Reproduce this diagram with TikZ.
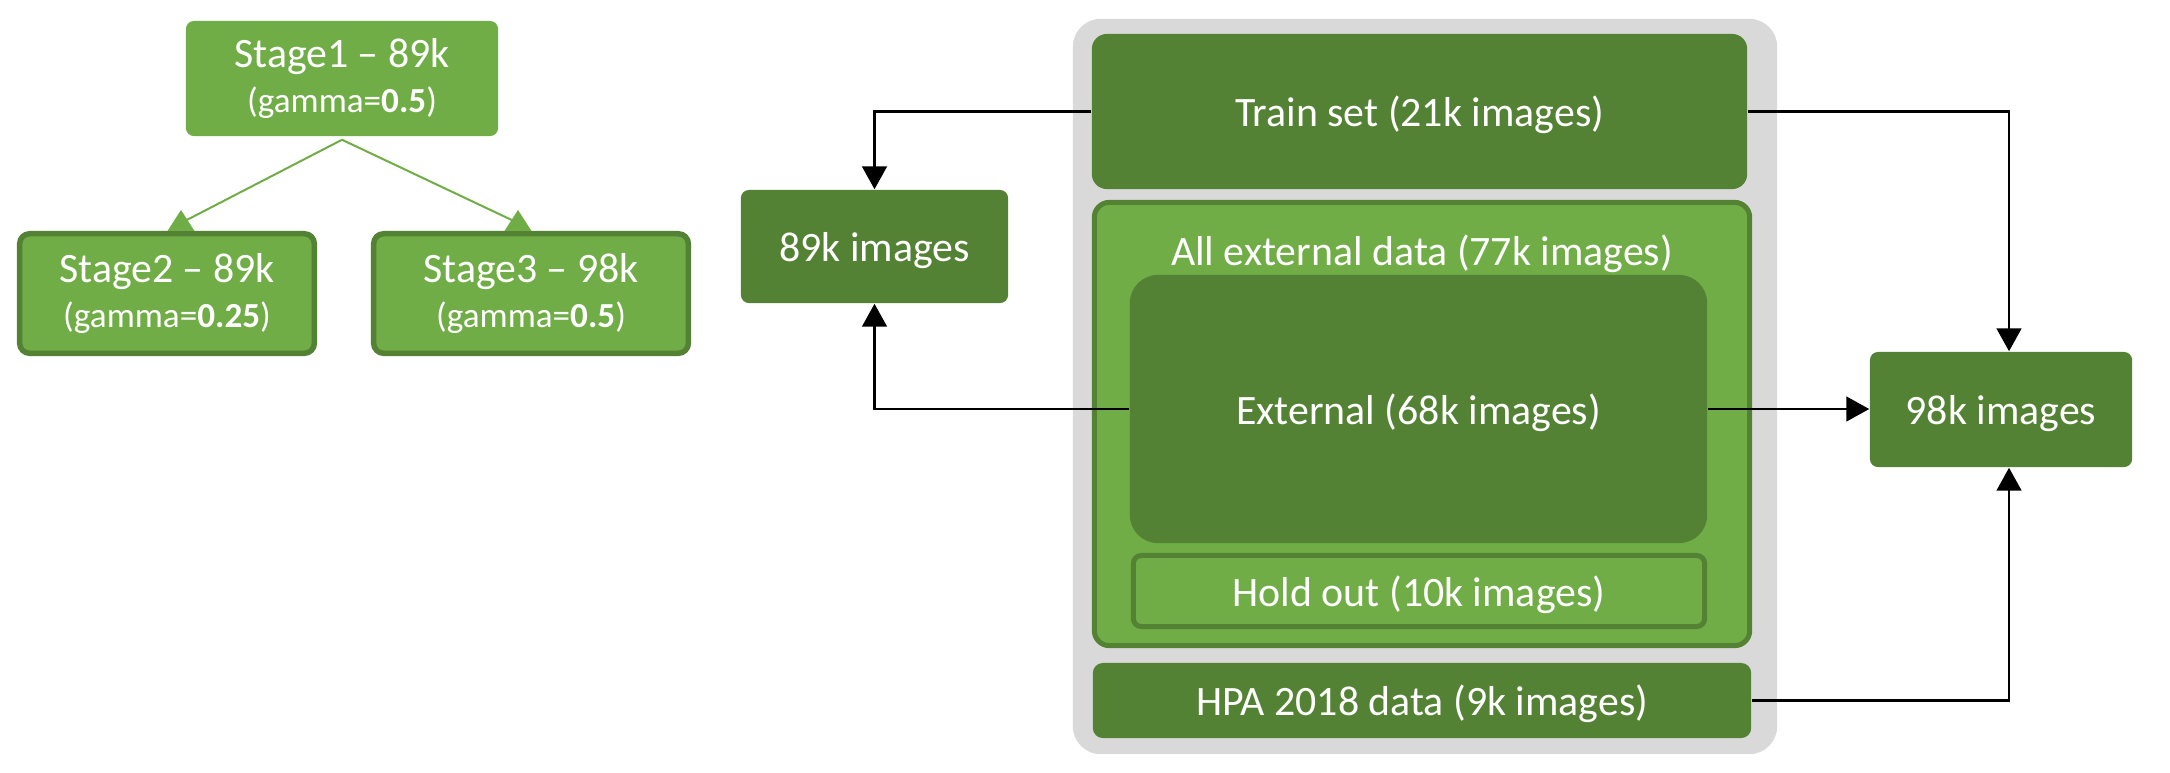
\documentclass[tikz,border=0pt]{standalone}
\usepackage{fontspec}
\setmainfont{Carlito}
\usepackage{tikz}
\usetikzlibrary{arrows.meta,positioning,calc}
\usepackage{xcolor}
\definecolor{leafgreen}{HTML}{70AD47}
\definecolor{mossgreen}{HTML}{548235}
\definecolor{panelgray}{HTML}{D9D9D9}

\begin{document}
\begin{tikzpicture}[
  x=0.01cm, y=-0.01cm,
  font=\fontsize{11.9}{12.6}\selectfont,
  >={Triangle[length=6.5pt,width=7pt]},
  stagebox/.style={
    fill=leafgreen,
    text=white,
    rounded corners=0.08cm,
    inner sep=0pt,
    align=center
  },
  stageedge/.style={
    stagebox,
    draw=mossgreen,
    line width=0.055cm,
    rounded corners=0.1cm
  },
  setbox/.style={
    fill=mossgreen,
    text=white,
    rounded corners=0.15cm,
    inner sep=0pt,
    text depth=0pt,
    align=center
  },
  subsetbox/.style={
    fill=leafgreen,
    draw=mossgreen,
    line width=0.05cm,
    text=white,
    inner sep=0pt,
    text depth=0pt,
    align=center
  },
  flow/.style={->, line width=0.025cm, black},
  branch/.style={leafgreen, line width=0.02cm}
]
  \useasboundingbox (0,0) rectangle (2170,772);

  % Left: training stages
  \node[stagebox, minimum width=3.12cm, minimum height=1.15cm] (stage1) at (342,78.5) {
    Stage1 – 89k\\
    {\fontsize{10}{12.6}\selectfont(gamma=\textbf{0.5})}
  };
  \node[stageedge, minimum width=2.945cm, minimum height=1.195cm] (stage2) at (167,293.5) {
    Stage2 – 89k\\
    {\fontsize{10}{12.6}\selectfont(gamma=\textbf{0.25})}
  };
  \node[stageedge, minimum width=3.145cm, minimum height=1.195cm] (stage3) at (531,293.5) {
    Stage3 – 98k\\
    {\fontsize{10}{12.6}\selectfont(gamma=\textbf{0.5})}
  };

  % Branches with upright tips
  \coordinate (fork) at ([yshift=-0.03cm]stage1.south);
  \coordinate (tip2) at ([xshift=0.14cm]stage2.north);
  \coordinate (tip3) at ([xshift=-0.13cm]stage3.north);
  \draw[branch] (fork) -- ([yshift=0.08cm]tip2);
  \draw[branch] (fork) -- ([yshift=0.08cm]tip3);
  \fill[leafgreen] ([xshift=-0.135cm]tip2) -- ([xshift=0.135cm]tip2) -- ([yshift=0.21cm]tip2) -- cycle;
  \fill[leafgreen] ([xshift=-0.135cm]tip3) -- ([xshift=0.135cm]tip3) -- ([yshift=0.21cm]tip3) -- cycle;

  % Middle: data panel
  \node[fill=panelgray, rounded corners=0.28cm, minimum width=7.04cm, minimum height=7.35cm] (panel) at (1425,386.5) {};
  \node[setbox, minimum width=6.55cm, minimum height=1.55cm] (train) at (1419.5,111.5) {Train set (21k images)};
  \node[subsetbox, rounded corners=0.15cm, minimum width=6.55cm, minimum height=4.43cm] (allext) at (1422,424) {};
  \node[text=white, text depth=0pt] (allexttitle) at (1422,250) {All external data (77k images)};
  \node[setbox, rounded corners=0.28cm, minimum width=5.77cm, minimum height=2.68cm] (ext) at (1418.5,409) {External (68k images)};
  \node[subsetbox, rounded corners=0.08cm, minimum width=5.71cm, minimum height=0.71cm] (hold) at (1419,591) {Hold out (10k images)};
  \node[setbox, rounded corners=0.1cm, minimum width=6.58cm, minimum height=0.75cm] (hpa) at (1422,700.5) {HPA 2018 data (9k images)};

  % Resulting datasets
  \node[setbox, rounded corners=0.08cm, minimum width=2.67cm, minimum height=1.13cm] (img89) at (874.5,246.5) {89k images};
  \node[setbox, rounded corners=0.08cm, minimum width=2.62cm, minimum height=1.15cm] (img98) at (2001,409.5) {98k images};

  % Flows into the datasets
  \draw[flow] (train.west) -| (img89.north);
  \draw[flow] (ext.west) -| (img89.south);
  \draw[flow] (train.east) -| ([xshift=0.08cm]img98.north);
  \draw[flow] (ext.east) -- (ext.east -| img98.west);
  \draw[flow] (hpa.east) -| ([xshift=0.08cm]img98.south);

\end{tikzpicture}
\end{document}
